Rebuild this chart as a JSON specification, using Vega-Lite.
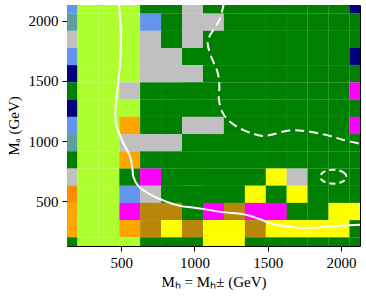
{
  "$schema": "https://vega.github.io/schema/vega-lite/v6.json",
  "autosize": {"type": "none"},
  "padding": {"left": 67, "top": 5, "right": 6, "bottom": 50},
  "width": 293,
  "height": 241,
  "config": {
    "view": {"stroke": "black", "strokeWidth": 1},
    "axis": {
      "labelFont": "Liberation Serif", "titleFont": "Liberation Serif",
      "labelFontSize": 15, "titleFontSize": 15, "titleFontWeight": "normal",
      "labelColor": "black", "titleColor": "black", "tickColor": "black",
      "domain": false, "grid": false, "tickSize": 5, "labelPadding": 4, "format": "d"
    }
  },
  "layer": [
    {
      "data": {"values": [
        {"mH":130,"mA":2130,"s":"B"},{"mH":273,"mA":2130,"s":"L"},{"mH":416,"mA":2130,"s":"L"},{"mH":559,"mA":2130,"s":"L"},{"mH":701,"mA":2130,"s":"G"},{"mH":844,"mA":2130,"s":"G"},{"mH":987,"mA":2130,"s":"S"},{"mH":1130,"mA":2130,"s":"G"},{"mH":1273,"mA":2130,"s":"G"},{"mH":1416,"mA":2130,"s":"G"},{"mH":1559,"mA":2130,"s":"G"},{"mH":1701,"mA":2130,"s":"G"},{"mH":1844,"mA":2130,"s":"G"},{"mH":1987,"mA":2130,"s":"G"},{"mH":2130,"mA":2130,"s":"N"},
        {"mH":130,"mA":1987,"s":"T"},{"mH":273,"mA":1987,"s":"L"},{"mH":416,"mA":1987,"s":"L"},{"mH":559,"mA":1987,"s":"L"},{"mH":701,"mA":1987,"s":"B"},{"mH":844,"mA":1987,"s":"G"},{"mH":987,"mA":1987,"s":"S"},{"mH":1130,"mA":1987,"s":"S"},{"mH":1273,"mA":1987,"s":"G"},{"mH":1416,"mA":1987,"s":"G"},{"mH":1559,"mA":1987,"s":"G"},{"mH":1701,"mA":1987,"s":"G"},{"mH":1844,"mA":1987,"s":"G"},{"mH":1987,"mA":1987,"s":"G"},{"mH":2130,"mA":1987,"s":"G"},
        {"mH":130,"mA":1844,"s":"S"},{"mH":273,"mA":1844,"s":"L"},{"mH":416,"mA":1844,"s":"L"},{"mH":559,"mA":1844,"s":"L"},{"mH":701,"mA":1844,"s":"S"},{"mH":844,"mA":1844,"s":"G"},{"mH":987,"mA":1844,"s":"S"},{"mH":1130,"mA":1844,"s":"G"},{"mH":1273,"mA":1844,"s":"G"},{"mH":1416,"mA":1844,"s":"G"},{"mH":1559,"mA":1844,"s":"G"},{"mH":1701,"mA":1844,"s":"G"},{"mH":1844,"mA":1844,"s":"G"},{"mH":1987,"mA":1844,"s":"G"},{"mH":2130,"mA":1844,"s":"G"},
        {"mH":130,"mA":1701,"s":"B"},{"mH":273,"mA":1701,"s":"L"},{"mH":416,"mA":1701,"s":"L"},{"mH":559,"mA":1701,"s":"L"},{"mH":701,"mA":1701,"s":"S"},{"mH":844,"mA":1701,"s":"S"},{"mH":987,"mA":1701,"s":"G"},{"mH":1130,"mA":1701,"s":"G"},{"mH":1273,"mA":1701,"s":"G"},{"mH":1416,"mA":1701,"s":"G"},{"mH":1559,"mA":1701,"s":"G"},{"mH":1701,"mA":1701,"s":"G"},{"mH":1844,"mA":1701,"s":"G"},{"mH":1987,"mA":1701,"s":"G"},{"mH":2130,"mA":1701,"s":"N"},
        {"mH":130,"mA":1559,"s":"N"},{"mH":273,"mA":1559,"s":"L"},{"mH":416,"mA":1559,"s":"L"},{"mH":559,"mA":1559,"s":"L"},{"mH":701,"mA":1559,"s":"S"},{"mH":844,"mA":1559,"s":"S"},{"mH":987,"mA":1559,"s":"S"},{"mH":1130,"mA":1559,"s":"G"},{"mH":1273,"mA":1559,"s":"G"},{"mH":1416,"mA":1559,"s":"G"},{"mH":1559,"mA":1559,"s":"G"},{"mH":1701,"mA":1559,"s":"G"},{"mH":1844,"mA":1559,"s":"G"},{"mH":1987,"mA":1559,"s":"G"},{"mH":2130,"mA":1559,"s":"G"},
        {"mH":130,"mA":1416,"s":"G"},{"mH":273,"mA":1416,"s":"L"},{"mH":416,"mA":1416,"s":"L"},{"mH":559,"mA":1416,"s":"S"},{"mH":701,"mA":1416,"s":"G"},{"mH":844,"mA":1416,"s":"G"},{"mH":987,"mA":1416,"s":"G"},{"mH":1130,"mA":1416,"s":"G"},{"mH":1273,"mA":1416,"s":"G"},{"mH":1416,"mA":1416,"s":"G"},{"mH":1559,"mA":1416,"s":"G"},{"mH":1701,"mA":1416,"s":"G"},{"mH":1844,"mA":1416,"s":"G"},{"mH":1987,"mA":1416,"s":"G"},{"mH":2130,"mA":1416,"s":"M"},
        {"mH":130,"mA":1273,"s":"N"},{"mH":273,"mA":1273,"s":"L"},{"mH":416,"mA":1273,"s":"L"},{"mH":559,"mA":1273,"s":"L"},{"mH":701,"mA":1273,"s":"G"},{"mH":844,"mA":1273,"s":"G"},{"mH":987,"mA":1273,"s":"G"},{"mH":1130,"mA":1273,"s":"G"},{"mH":1273,"mA":1273,"s":"G"},{"mH":1416,"mA":1273,"s":"G"},{"mH":1559,"mA":1273,"s":"G"},{"mH":1701,"mA":1273,"s":"G"},{"mH":1844,"mA":1273,"s":"G"},{"mH":1987,"mA":1273,"s":"G"},{"mH":2130,"mA":1273,"s":"G"},
        {"mH":130,"mA":1130,"s":"B"},{"mH":273,"mA":1130,"s":"L"},{"mH":416,"mA":1130,"s":"L"},{"mH":559,"mA":1130,"s":"O"},{"mH":701,"mA":1130,"s":"G"},{"mH":844,"mA":1130,"s":"G"},{"mH":987,"mA":1130,"s":"S"},{"mH":1130,"mA":1130,"s":"S"},{"mH":1273,"mA":1130,"s":"G"},{"mH":1416,"mA":1130,"s":"G"},{"mH":1559,"mA":1130,"s":"G"},{"mH":1701,"mA":1130,"s":"G"},{"mH":1844,"mA":1130,"s":"G"},{"mH":1987,"mA":1130,"s":"G"},{"mH":2130,"mA":1130,"s":"M"},
        {"mH":130,"mA":987,"s":"T"},{"mH":273,"mA":987,"s":"L"},{"mH":416,"mA":987,"s":"L"},{"mH":559,"mA":987,"s":"S"},{"mH":701,"mA":987,"s":"S"},{"mH":844,"mA":987,"s":"S"},{"mH":987,"mA":987,"s":"G"},{"mH":1130,"mA":987,"s":"G"},{"mH":1273,"mA":987,"s":"G"},{"mH":1416,"mA":987,"s":"G"},{"mH":1559,"mA":987,"s":"G"},{"mH":1701,"mA":987,"s":"G"},{"mH":1844,"mA":987,"s":"G"},{"mH":1987,"mA":987,"s":"G"},{"mH":2130,"mA":987,"s":"G"},
        {"mH":130,"mA":844,"s":"G"},{"mH":273,"mA":844,"s":"L"},{"mH":416,"mA":844,"s":"L"},{"mH":559,"mA":844,"s":"O"},{"mH":701,"mA":844,"s":"G"},{"mH":844,"mA":844,"s":"G"},{"mH":987,"mA":844,"s":"G"},{"mH":1130,"mA":844,"s":"G"},{"mH":1273,"mA":844,"s":"G"},{"mH":1416,"mA":844,"s":"G"},{"mH":1559,"mA":844,"s":"G"},{"mH":1701,"mA":844,"s":"G"},{"mH":1844,"mA":844,"s":"G"},{"mH":1987,"mA":844,"s":"G"},{"mH":2130,"mA":844,"s":"G"},
        {"mH":130,"mA":701,"s":"S"},{"mH":273,"mA":701,"s":"L"},{"mH":416,"mA":701,"s":"L"},{"mH":559,"mA":701,"s":"G"},{"mH":701,"mA":701,"s":"M"},{"mH":844,"mA":701,"s":"G"},{"mH":987,"mA":701,"s":"G"},{"mH":1130,"mA":701,"s":"G"},{"mH":1273,"mA":701,"s":"G"},{"mH":1416,"mA":701,"s":"G"},{"mH":1559,"mA":701,"s":"Y"},{"mH":1701,"mA":701,"s":"S"},{"mH":1844,"mA":701,"s":"G"},{"mH":1987,"mA":701,"s":"G"},{"mH":2130,"mA":701,"s":"G"},
        {"mH":130,"mA":559,"s":"D"},{"mH":273,"mA":559,"s":"L"},{"mH":416,"mA":559,"s":"L"},{"mH":559,"mA":559,"s":"B"},{"mH":701,"mA":559,"s":"S"},{"mH":844,"mA":559,"s":"G"},{"mH":987,"mA":559,"s":"G"},{"mH":1130,"mA":559,"s":"G"},{"mH":1273,"mA":559,"s":"G"},{"mH":1416,"mA":559,"s":"Y"},{"mH":1559,"mA":559,"s":"G"},{"mH":1701,"mA":559,"s":"Y"},{"mH":1844,"mA":559,"s":"G"},{"mH":1987,"mA":559,"s":"G"},{"mH":2130,"mA":559,"s":"G"},
        {"mH":130,"mA":416,"s":"O"},{"mH":273,"mA":416,"s":"L"},{"mH":416,"mA":416,"s":"L"},{"mH":559,"mA":416,"s":"M"},{"mH":701,"mA":416,"s":"K"},{"mH":844,"mA":416,"s":"K"},{"mH":987,"mA":416,"s":"G"},{"mH":1130,"mA":416,"s":"M"},{"mH":1273,"mA":416,"s":"K"},{"mH":1416,"mA":416,"s":"M"},{"mH":1559,"mA":416,"s":"M"},{"mH":1701,"mA":416,"s":"G"},{"mH":1844,"mA":416,"s":"G"},{"mH":1987,"mA":416,"s":"Y"},{"mH":2130,"mA":416,"s":"Y"},
        {"mH":130,"mA":273,"s":"O"},{"mH":273,"mA":273,"s":"L"},{"mH":416,"mA":273,"s":"L"},{"mH":559,"mA":273,"s":"O"},{"mH":701,"mA":273,"s":"K"},{"mH":844,"mA":273,"s":"Y"},{"mH":987,"mA":273,"s":"K"},{"mH":1130,"mA":273,"s":"Y"},{"mH":1273,"mA":273,"s":"Y"},{"mH":1416,"mA":273,"s":"K"},{"mH":1559,"mA":273,"s":"Y"},{"mH":1701,"mA":273,"s":"Y"},{"mH":1844,"mA":273,"s":"Y"},{"mH":1987,"mA":273,"s":"Y"},{"mH":2130,"mA":273,"s":"G"},
        {"mH":130,"mA":130,"s":"G"},{"mH":273,"mA":130,"s":"L"},{"mH":416,"mA":130,"s":"L"},{"mH":559,"mA":130,"s":"L"},{"mH":701,"mA":130,"s":"G"},{"mH":844,"mA":130,"s":"G"},{"mH":987,"mA":130,"s":"G"},{"mH":1130,"mA":130,"s":"Y"},{"mH":1273,"mA":130,"s":"Y"},{"mH":1416,"mA":130,"s":"G"},{"mH":1559,"mA":130,"s":"G"},{"mH":1701,"mA":130,"s":"G"},{"mH":1844,"mA":130,"s":"G"},{"mH":1987,"mA":130,"s":"G"},{"mH":2130,"mA":130,"s":"G"}
      ]},
      "mark": {"type": "rect", "width": 21.1, "height": 17.35, "clip": true},
      "encoding": {
        "x": {"field": "mH", "type": "quantitative", "scale": {"domain": [130, 2130], "nice": false, "zero": false},
              "axis": {"values": [500, 1000, 1500, 2000], "title": "Mₕ = Mₕ± (GeV)", "titlePadding": 4}},
        "y": {"field": "mA", "type": "quantitative", "scale": {"domain": [130, 2130], "nice": false, "zero": false},
              "axis": {"values": [500, 1000, 1500, 2000], "title": "Mₐ (GeV)", "titlePadding": 7}},
        "color": {"field": "s", "type": "nominal", "legend": null,
                  "scale": {"domain": ["L","G","S","B","N","T","O","D","K","Y","M"],
                            "range": ["#adff2f","#008000","#c0c0c0","#6495ed","#000080","#5f9ea0","#ffa500","#ff8c00","#b8860b","#ffff00","#ff00ff"]}}
      }
    },
    {
      "data": {"values": [
        {"i":0,"mH":484,"mA":2140},{"i":1,"mH":500,"mA":1868},{"i":2,"mH":495,"mA":1703},{"i":3,"mH":477,"mA":1455},{"i":4,"mH":461,"mA":1262},{"i":5,"mH":465,"mA":1138},{"i":6,"mH":514,"mA":987},{"i":7,"mH":559,"mA":877},{"i":8,"mH":577,"mA":767},{"i":9,"mH":582,"mA":709},{"i":10,"mH":616,"mA":629},{"i":11,"mH":707,"mA":552},{"i":12,"mH":843,"mA":483},{"i":13,"mH":909,"mA":461},{"i":14,"mH":988,"mA":450},{"i":15,"mH":1068,"mA":436},{"i":16,"mH":1204,"mA":409},{"i":17,"mH":1329,"mA":395},{"i":18,"mH":1443,"mA":354},{"i":19,"mH":1534,"mA":312},{"i":20,"mH":1625,"mA":293},{"i":21,"mH":1761,"mA":279},{"i":22,"mH":1943,"mA":293},{"i":23,"mH":2140,"mA":308}
      ]},
      "mark": {"type": "line", "color": "white", "strokeWidth": 2, "interpolate": "catmull-rom", "clip": true},
      "encoding": {"x": {"field": "mH", "type": "quantitative"}, "y": {"field": "mA", "type": "quantitative"}, "order": {"field": "i"}}
    },
    {
      "data": {"values": [
        {"i":0,"mH":1200,"mA":2140},{"i":1,"mH":1170,"mA":2006},{"i":2,"mH":1102,"mA":1868},{"i":3,"mH":1090,"mA":1813},{"i":4,"mH":1114,"mA":1703},{"i":5,"mH":1159,"mA":1566},{"i":6,"mH":1170,"mA":1455},{"i":7,"mH":1167,"mA":1345},{"i":8,"mH":1193,"mA":1235},{"i":9,"mH":1238,"mA":1166},{"i":10,"mH":1320,"mA":1100},{"i":11,"mH":1400,"mA":1062},{"i":12,"mH":1465,"mA":1042},{"i":13,"mH":1534,"mA":1056},{"i":14,"mH":1648,"mA":1089},{"i":15,"mH":1761,"mA":1083},{"i":16,"mH":1898,"mA":1052},{"i":17,"mH":2011,"mA":1012},{"i":18,"mH":2140,"mA":975}
      ]},
      "mark": {"type": "line", "color": "white", "strokeWidth": 2, "strokeDash": [9, 5], "interpolate": "catmull-rom", "clip": true},
      "encoding": {"x": {"field": "mH", "type": "quantitative"}, "y": {"field": "mA", "type": "quantitative"}, "order": {"field": "i"}}
    },
    {
      "data": {"values": [
        {"i":0,"mH":2037,"mA":705},{"i":1,"mH":2025,"mA":734},{"i":2,"mH":1992,"mA":755},{"i":3,"mH":1948,"mA":763},{"i":4,"mH":1903,"mA":755},{"i":5,"mH":1871,"mA":734},{"i":6,"mH":1859,"mA":705},{"i":7,"mH":1871,"mA":676},{"i":8,"mH":1903,"mA":655},{"i":9,"mH":1948,"mA":647},{"i":10,"mH":1992,"mA":655},{"i":11,"mH":2025,"mA":676}
      ]},
      "mark": {"type": "line", "color": "white", "strokeWidth": 2, "strokeDash": [6, 4], "interpolate": "cardinal-closed", "clip": true},
      "encoding": {"x": {"field": "mH", "type": "quantitative"}, "y": {"field": "mA", "type": "quantitative"}, "order": {"field": "i"}}
    }
  ]
}
